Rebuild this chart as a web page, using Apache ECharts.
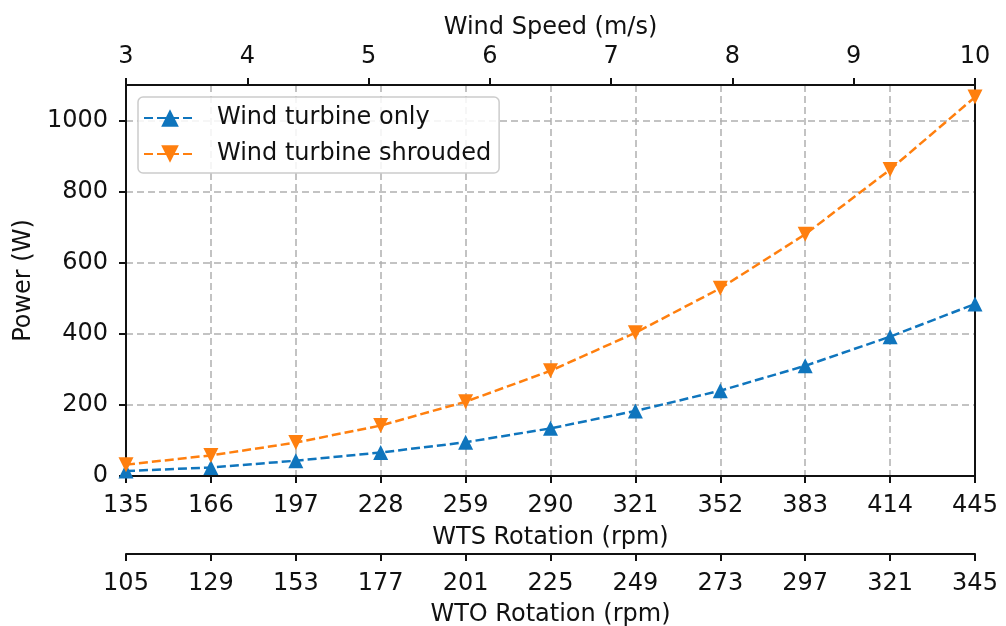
<!DOCTYPE html>
<html>
<head>
<meta charset="utf-8">
<script src="https://cdn.jsdelivr.net/npm/echarts@6/dist/echarts.min.js"></script>
<style>html,body{margin:0;padding:0;background:#fff;}#c{width:1006px;height:626px;}</style>
</head>
<body>
<div id="c"></div>
<script>
const wtsRotation = [135, 166, 197, 228, 259, 290, 321, 352, 383, 414, 445];
const wtoRotation = [105, 129, 153, 177, 201, 225, 249, 273, 297, 321, 345];
const windSpeedMin = 3, windSpeedMax = 10;
const powerOnly = [14, 24, 43, 66, 95, 134, 183, 240, 310, 392, 484];
const powerShrouded = [32, 58, 94, 142, 209, 296, 403, 528, 680, 862, 1066];
const yTicks = [0, 200, 400, 600, 800, 1000];

const FONT = 'DejaVu Sans';
const FS = 24;
const mkLine = () => ({ show: true, onZero: false, lineStyle: { color: '#111', width: 2 } });
const mkTick = (extra) => Object.assign({ show: true, length: 7, inside: false, lineStyle: { color: '#111', width: 2 } }, extra || {});
const mkGrid = (extra) => Object.assign({ show: true, lineStyle: { color: '#b0b0b0', width: 1.5, type: [7, 4] } }, extra || {});
const lbl = (m, extra) => Object.assign({ fontFamily: FONT, fontSize: FS, color: '#111', margin: m }, extra || {});
const nameStyle = () => ({ fontFamily: FONT, fontSize: FS, color: '#111' });

const chart = echarts.init(document.getElementById('c'), null, { renderer: 'canvas' });
chart.setOption({
  animation: false,
  backgroundColor: '#fff',
  grid: { left: 126, right: 31, top: 85, bottom: 150, containLabel: false, outerBoundsMode: 'none' },
  legend: {
    orient: 'vertical', left: 138, top: 97, z: 20,
    padding: [9, 8, 7, 5], itemGap: 12,
    itemWidth: 52, itemHeight: 22,
    borderColor: '#cccccc', borderWidth: 1.5, borderRadius: 5,
    backgroundColor: 'rgba(255,255,255,0.85)',
    textStyle: { fontFamily: FONT, fontSize: FS, color: '#111', padding: [0, 0, 0, 16] },
    data: ['Wind turbine only', 'Wind turbine shrouded']
  },
  xAxis: [
    {
      type: 'category', data: wtsRotation, boundaryGap: false, position: 'bottom',
      axisLine: mkLine(), axisTick: mkTick({ interval: 0 }),
      axisLabel: lbl(18, { interval: 0 }),
      splitLine: mkGrid({ interval: 0 }),
      name: 'WTS Rotation (rpm)', nameLocation: 'middle', nameGap: 50, nameTextStyle: nameStyle()
    },
    {
      type: 'category', data: wtoRotation, boundaryGap: false, position: 'bottom', offset: 78,
      axisLine: mkLine(), axisTick: mkTick({ interval: 0 }),
      axisLabel: lbl(18, { interval: 0 }),
      splitLine: { show: false },
      name: 'WTO Rotation (rpm)', nameLocation: 'middle', nameGap: 49, nameTextStyle: nameStyle()
    },
    {
      type: 'value', position: 'top', min: windSpeedMin, max: windSpeedMax, interval: 1,
      axisLine: mkLine(), axisTick: mkTick(), axisLabel: lbl(16), splitLine: { show: false },
      name: 'Wind Speed (m/s)', nameLocation: 'middle', nameGap: 41, nameTextStyle: nameStyle()
    }
  ],
  yAxis: [
    {
      type: 'value', min: 0, max: 1100, interval: 200, position: 'left',
      axisLine: mkLine(), axisTick: mkTick({ customValues: yTicks }),
      axisLabel: lbl(18, { customValues: yTicks, formatter: (v) => String(v) }),
      splitLine: mkGrid(),
      name: 'Power (W)', nameLocation: 'middle', nameGap: 72, nameTextStyle: nameStyle()
    },
    {
      type: 'value', position: 'right', min: 0, max: 1100, interval: 200,
      axisLine: mkLine(), axisTick: { show: false }, axisLabel: { show: false }, splitLine: { show: false }
    }
  ],
  series: [
    {
      name: 'Wind turbine only', type: 'line', xAxisIndex: 0, yAxisIndex: 0,
      data: powerOnly, symbol: 'triangle', symbolSize: 15, showAllSymbol: true,
      itemStyle: { color: '#0f75bd' },
      lineStyle: { color: '#0f75bd', width: 2.5, type: [9, 4] }, z: 3
    },
    {
      name: 'Wind turbine shrouded', type: 'line', xAxisIndex: 0, yAxisIndex: 0,
      data: powerShrouded, symbol: 'triangle', symbolRotate: 180, symbolSize: 15, showAllSymbol: true,
      itemStyle: { color: '#ff7f0e' },
      lineStyle: { color: '#ff7f0e', width: 2.5, type: [9, 4] }, z: 3
    }
  ]
});
</script>
</body>
</html>
